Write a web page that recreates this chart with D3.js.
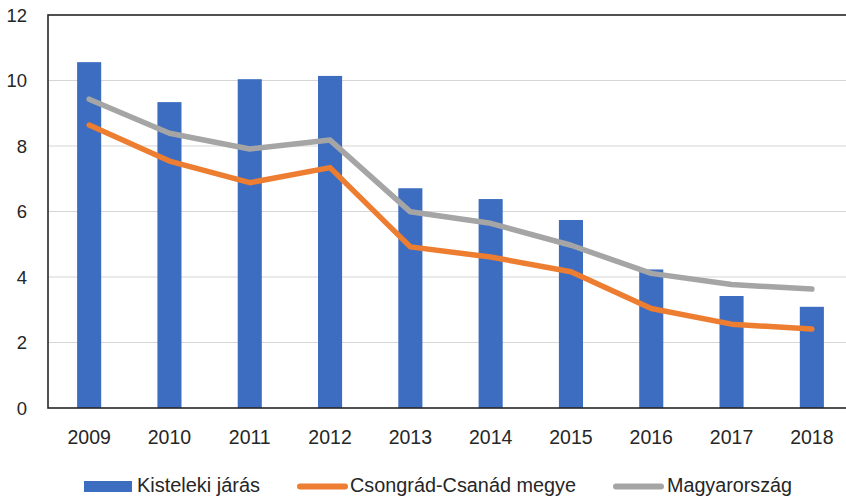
<!DOCTYPE html>
<html>
<head>
<meta charset="utf-8">
<script src="https://cdn.jsdelivr.net/npm/d3@7"></script>
<style>
  html, body { margin: 0; padding: 0; background: #fff; }
  svg { display: block; }
</style>
</head>
<body>
<svg id="chart" width="846" height="499"></svg>
<script>
// Years on the horizontal axis
const years = ["2009","2010","2011","2012","2013","2014","2015","2016","2017","2018"];
// Kisteleki járás (bars)
const kistelek = [10.56, 9.34, 10.04, 10.14, 6.71, 6.38, 5.74, 4.23, 3.42, 3.09];
// Csongrád-Csanád megye (orange line)
const csongrad = [8.64, 7.54, 6.88, 7.34, 4.92, 4.61, 4.16, 3.04, 2.56, 2.41];
// Magyarország (gray line)
const magyar = [9.43, 8.39, 7.91, 8.18, 5.99, 5.64, 4.97, 4.11, 3.77, 3.63];
// Vertical axis ticks
const yTicks = [0, 2, 4, 6, 8, 10, 12];
const seriesNames = ["Kisteleki járás", "Csongrád-Csanád megye", "Magyarország"];

const colors = { bar: "#3d6dc0", orange: "#ed7d31", gray: "#a5a5a5" };
const font = "'Liberation Sans', Arial, sans-serif";
const textColor = "#262626";

const svg = d3.select("#chart");
const plot = { left: 48, right: 852, top: 15, bottom: 408 };

const x = d3.scaleBand().domain(years).range([plot.left + 1, plot.right]).paddingInner(0.7).paddingOuter(0.35);
const y = d3.scaleLinear().domain([0, 12]).range([plot.bottom, plot.top]);

// Gridlines
svg.append("g")
  .selectAll("line")
  .data(yTicks.filter(d => d > 0 && d < 12))
  .join("line")
  .attr("x1", plot.left).attr("x2", plot.right)
  .attr("y1", d => y(d)).attr("y2", d => y(d))
  .attr("stroke", "#d6d6d6").attr("stroke-width", 1.2);

// Y tick labels
svg.append("g")
  .selectAll("text")
  .data(yTicks)
  .join("text")
  .attr("x", 27).attr("y", d => y(d))
  .attr("dy", "0.36em")
  .attr("text-anchor", "end")
  .attr("font-family", font)
  .attr("font-size", 18.5)
  .attr("fill", textColor)
  .text(d => d);

// Bars
svg.append("g")
  .selectAll("rect")
  .data(years.map((yr, i) => ({ yr, v: kistelek[i] })))
  .join("rect")
  .attr("x", d => x(d.yr))
  .attr("width", x.bandwidth())
  .attr("y", d => y(d.v))
  .attr("height", d => y(0) - y(d.v))
  .attr("fill", colors.bar);

// Lines
const line = d3.line()
  .x((d, i) => x(years[i]) + x.bandwidth() / 2)
  .y(d => y(d));

svg.append("path")
  .datum(magyar)
  .attr("d", line)
  .attr("fill", "none")
  .attr("stroke", colors.gray)
  .attr("stroke-width", 5.5)
  .attr("stroke-linejoin", "round")
  .attr("stroke-linecap", "round");

svg.append("path")
  .datum(csongrad)
  .attr("d", line)
  .attr("fill", "none")
  .attr("stroke", colors.orange)
  .attr("stroke-width", 5.5)
  .attr("stroke-linejoin", "round")
  .attr("stroke-linecap", "round");

// Plot frame
svg.append("rect")
  .attr("x", plot.left).attr("y", plot.top)
  .attr("width", plot.right - plot.left).attr("height", plot.bottom - plot.top)
  .attr("fill", "none")
  .attr("stroke", "#262626")
  .attr("stroke-width", 1.6);

// X tick labels
svg.append("g")
  .selectAll("text")
  .data(years)
  .join("text")
  .attr("x", d => x(d) + x.bandwidth() / 2)
  .attr("y", 444)
  .attr("text-anchor", "middle")
  .attr("font-family", font)
  .attr("font-size", 19.5)
  .attr("fill", textColor)
  .text(d => d);

// Legend
const legend = svg.append("g").attr("font-family", font)
  .attr("font-size", 19.5).attr("fill", textColor);
const legendItems = [
  { name: seriesNames[0], type: "bar", color: colors.bar, x0: 84, tx: 137, w: 123 },
  { name: seriesNames[1], type: "line", color: colors.orange, x0: 297, tx: 350, w: 226 },
  { name: seriesNames[2], type: "line", color: colors.gray, x0: 613, tx: 667, w: 125 }
];
legendItems.forEach(it => {
  if (it.type === "bar") {
    legend.append("rect").attr("x", it.x0).attr("y", 481).attr("width", 48).attr("height", 11).attr("fill", it.color);
  } else {
    legend.append("line").attr("x1", it.x0 + 3).attr("x2", it.x0 + 48)
      .attr("y1", 486.5).attr("y2", 486.5)
      .attr("stroke", it.color).attr("stroke-width", 6).attr("stroke-linecap", "round");
  }
  legend.append("text").attr("x", it.tx).attr("y", 492)
    .attr("textLength", it.w).attr("lengthAdjust", "spacingAndGlyphs")
    .text(it.name);
});
</script>
</body>
</html>
